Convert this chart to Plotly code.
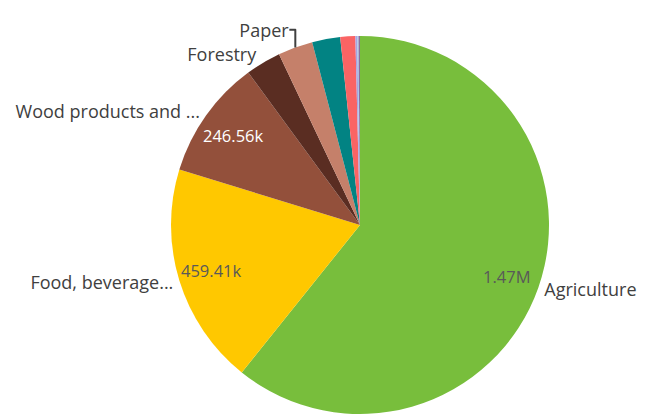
import math
import plotly.graph_objects as go

categories = ["Agriculture", "Food, beverage...", "Wood products and ...", "Forestry", "Paper",
              "Other 1", "Other 2", "Other 3", "Other 4", "Other 5"]
values = [1470000, 459410, 246560, 73000, 72000, 58000, 31000, 4000, 2500, 3000]
value_text = ["1.47M", "459.41k", "246.56k", "", "", "", "", "", "", ""]
outside_text = ["Agriculture", "Food, beverage...", "Wood products and ...", "Forestry", "Paper",
                "", "", "", "", ""]
colors = ["#78BE3C", "#FFC800", "#93503B", "#5A2D22", "#C5806A", "#028383", "#FA6464",
          "#A8A4E2", "#9FC4E8", "#8D6F9A"]
value_colors = ["#595959", "#595959", "#FFFFFF"]

FONT = "Open Sans"
W, H = 649, 416
# page offset of 8px (browser body margin) compensated
cx, cy, r = 352, 217, 189
dom_x = [(cx - r) / W, (cx + r) / W]
dom_y = [(H - cy - r) / H, (H - cy + r) / H]

fig = go.Figure()
fig.add_trace(go.Pie(
    labels=categories, values=values, sort=False, direction="clockwise", rotation=0,
    marker=dict(colors=colors, line=dict(width=0)),
    text=outside_text, texttemplate="%{text}", textposition="outside",
    outsidetextfont=dict(color="#404040", size=18, family=FONT),
    domain=dict(x=dom_x, y=dom_y), showlegend=False, hoverinfo="skip",
))

# inside value labels placed along each slice's mid-angle
total = sum(values)
cum = 0
for v, t, c in zip(values, value_text, value_colors + ["#FFFFFF"] * len(values)):
    mid = (cum + v / 2) / total * 2 * math.pi
    cum += v
    if not t:
        continue
    px = cx + 0.82 * r * math.sin(mid)
    py = cy - 0.82 * r * math.cos(mid)
    fig.add_annotation(x=px / W, y=1 - py / H, xref="paper", yref="paper", text=t,
                       xanchor="center", yanchor="middle",
                       showarrow=False, font=dict(color=c, size=16.5, family=FONT))

fig.update_layout(
    width=W, height=H, margin=dict(l=0, r=0, t=0, b=0),
    paper_bgcolor="white", plot_bgcolor="white",
    font=dict(family=FONT, color="#404040"),
)
fig.write_html("out.html")
